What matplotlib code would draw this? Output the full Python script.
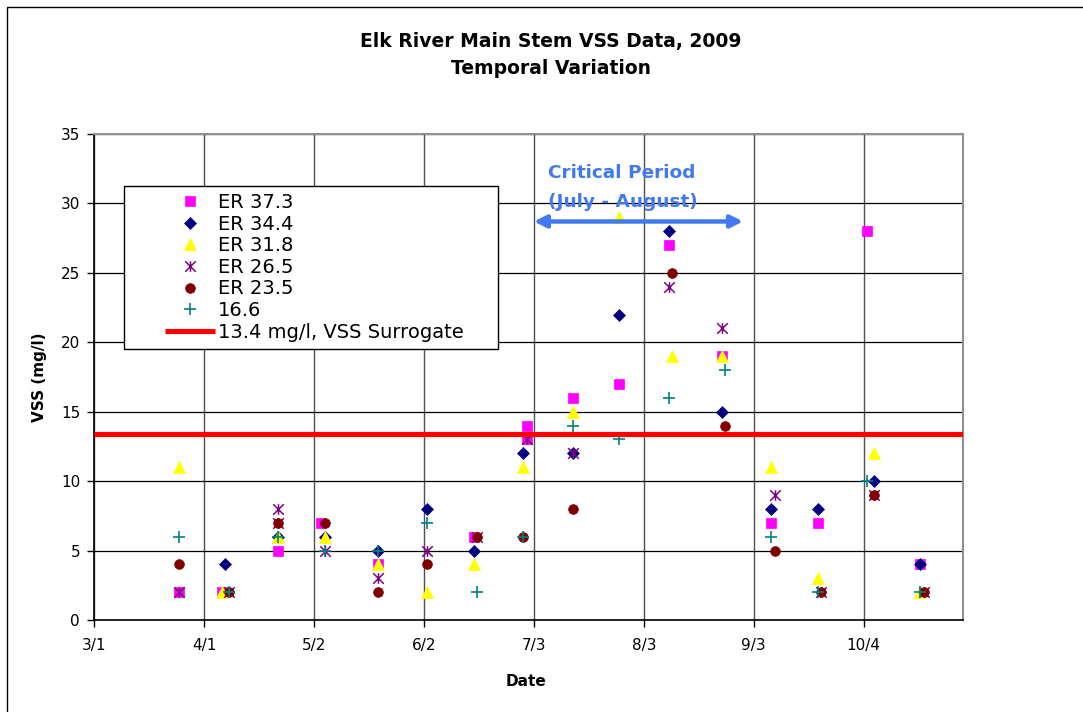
import matplotlib
matplotlib.use("Agg")
import matplotlib.pyplot as plt
import numpy as np
import pandas as pd
from matplotlib.path import Path
from matplotlib.legend_handler import HandlerLine2D
from matplotlib.lines import Line2D
import matplotlib.patches as mpatches

plt.rcParams['font.family'] = ['DejaVu Sans']

# ---------------- data ----------------
YEAR = "2009-"
er373_dates = ['03-25', '04-06', '04-22', '05-04', '05-20', '06-16', '07-01', '07-01', '07-14',
               '07-27', '08-10', '08-25', '09-08', '09-21', '10-05', '10-20']
er373_vals = [2, 2, 5, 7, 4, 6, 14, 13, 16, 17, 27, 19, 7, 7, 28, 4]

er344_dates = ['04-07', '04-22', '05-05', '05-20', '06-03', '06-16', '06-30', '07-14', '07-27',
               '08-10', '08-25', '09-08', '09-21', '10-07', '10-20']
er344_vals = [4, 6, 6, 5, 8, 5, 12, 12, 22, 28, 15, 8, 8, 10, 4]

er318_dates = ['03-25', '04-06', '04-22', '05-05', '05-20', '06-03', '06-16', '06-30', '07-14',
               '07-27', '08-11', '08-25', '09-08', '09-21', '10-07', '10-20']
er318_vals = [11, 2, 6, 6, 4, 2, 4, 11, 15, 29, 19, 19, 11, 3, 12, 2]

er265_dates = ['03-25', '04-08', '04-22', '04-22', '05-05', '05-20', '06-03', '06-17', '07-01',
               '07-14', '08-10', '08-25', '09-09', '09-22', '10-07', '10-21']
er265_vals = [2, 2, 8, 7, 5, 3, 5, 6, 13, 12, 24, 21, 9, 2, 9, 2]

er235_dates = ['03-25', '04-08', '04-22', '05-05', '05-20', '06-03', '06-17', '06-30', '07-14',
               '08-11', '08-26', '09-09', '09-22', '10-07', '10-21']
er235_vals = [4, 2, 7, 7, 2, 4, 6, 6, 8, 25, 14, 5, 2, 9, 2]

s166_dates = ['03-25', '04-08', '04-22', '05-05', '05-20', '06-03', '06-17', '06-30', '07-14',
              '07-27', '08-10', '08-26', '09-08', '09-21', '10-05', '10-20']
s166_vals = [6, 2, 6, 5, 5, 7, 2, 6, 14, 13, 16, 18, 6, 2, 10, 2]

series_labels = ['ER 37.3', 'ER 34.4', 'ER 31.8', 'ER 26.5', 'ER 23.5', '16.6']
surrogate_value = 13.4
surrogate_label = '13.4 mg/l, VSS Surrogate'

x_start, x_end = '2009-03-01', '2009-11-01'
tick_dates = ['2009-03-01', '2009-04-01', '2009-05-02', '2009-06-02', '2009-07-03',
              '2009-08-03', '2009-09-03', '2009-10-04']
y_ticks = [0, 5, 10, 15, 20, 25, 30, 35]

critical_start, critical_end, critical_y = '2009-07-03', '2009-08-31', 28.7
critical_text_x = '2009-07-07'
critical_line1, critical_line2 = 'Critical Period', '(July - August)'

title_lines = ['Elk River Main Stem VSS Data, 2009', 'Temporal Variation']

# ---------------- figure ----------------
W, H = 1083, 712
fig = plt.figure(figsize=(W / 100, H / 100), dpi=100)
ax = fig.add_axes([94 / W, 1 - 620 / H, 869 / W, 486 / H])

star = Path([(-1, -1), (1, 1), (-1, 1), (1, -1), (0, -1), (0, 1)],
            [Path.MOVETO, Path.LINETO] * 3)

styles = [
    dict(marker='s', color='#FF00FF', ms=7.2, mew=0.5),
    dict(marker='D', color='#000080', ms=5.8, mew=0.5),
    dict(marker='^', color='#FFFF00', ms=8.0, mew=0.5),
    dict(marker=star, color='#800080', ms=7.6, mew=1.1, mfc='none'),
    dict(marker='o', color='#800000', ms=7.0, mew=0.5),
    dict(marker='+', color='#008080', ms=8.4, mew=1.2),
]
all_dates = [er373_dates, er344_dates, er318_dates, er265_dates, er235_dates, s166_dates]
all_vals = [er373_vals, er344_vals, er318_vals, er265_vals, er235_vals, s166_vals]

handles = []
for d, v, lab, st in zip(all_dates, all_vals, series_labels, styles):
    x = pd.to_datetime([YEAR + s for s in d])
    st = dict(st)
    col = st.pop('color')
    mfc = st.pop('mfc', col)
    h, = ax.plot(x, v, linestyle='none', color=col, mfc=mfc, mec=col, label=lab,
                 zorder=3, **st)
    handles.append(h)

hl = ax.axhline(surrogate_value, color='#FF0000', lw=3.7, zorder=4, label=surrogate_label,
                solid_capstyle='butt')
handles.append(hl)

# axes styling
ax.set_xlim(pd.Timestamp(x_start), pd.Timestamp(x_end))
ax.set_ylim(y_ticks[0], y_ticks[-1])
tdates = pd.to_datetime(tick_dates)
ax.set_xticks(tdates)
ax.set_xticklabels([f"{t.month}/{t.day}" for t in tdates])
ax.set_yticks(y_ticks)
ax.tick_params(axis='both', direction='out', length=5, width=1, labelsize=11,
               color='black', labelcolor='black')
ax.tick_params(axis='x', pad=8)
ax.tick_params(axis='y', pad=5)
ax.grid(axis='y', color='black', lw=0.9, zorder=1)
ax.grid(axis='x', color='#505050', lw=1.0, zorder=1)
ax.set_axisbelow(True)
for s in ['top', 'right']:
    ax.spines[s].set_color('#909090')
    ax.spines[s].set_linewidth(1.5)
for s in ['left', 'bottom']:
    ax.spines[s].set_color('black')
    ax.spines[s].set_linewidth(1.2)

ax.set_ylabel('VSS (mg/l)', fontsize=11, fontweight='bold')
ax.yaxis.set_label_coords(-0.054, 0.5)
ax.set_xlabel('Date', fontsize=11, fontweight='bold')
ax.xaxis.set_label_coords(0.497, -0.111)

# critical period arrow + text
blue = '#4279F0'
ax.annotate('', xy=(pd.Timestamp(critical_end), critical_y),
            xytext=(pd.Timestamp(critical_start), critical_y),
            arrowprops=dict(arrowstyle='<|-|>', color=blue, lw=3.2, mutation_scale=18,
                            shrinkA=0, shrinkB=0), zorder=5)
ax.text(pd.Timestamp(critical_text_x), 32.2, critical_line1, color=blue, fontsize=13.3,
        fontweight='bold', ha='left', va='center', zorder=6)
ax.text(pd.Timestamp(critical_text_x), 30.1, critical_line2, color=blue, fontsize=13.3,
        fontweight='bold', ha='left', va='center', zorder=6)

# title
fig.text(551 / W, 1 - 42 / H, title_lines[0], ha='center', va='center', fontsize=13.5,
         fontweight='bold')
fig.text(551 / W, 1 - 68 / H, title_lines[1], ha='center', va='center', fontsize=13.5,
         fontweight='bold')


# legend
class RightHandler(HandlerLine2D):
    def __init__(self, frac, **kw):
        super().__init__(**kw)
        self.frac = frac

    def create_artists(self, legend, orig_handle, xdescent, ydescent, width, height,
                       fontsize, trans):
        w2 = width * self.frac
        return super().create_artists(legend, orig_handle, xdescent - (width - w2), ydescent,
                                      w2, height, fontsize, trans)


fs = 14
leg = ax.legend(handles=handles, loc='upper left',
                bbox_to_anchor=(124 / W, 1 - 351 / H, 374 / W, 165 / H),
                bbox_transform=fig.transFigure, mode='expand', borderaxespad=0,
                fontsize=fs, frameon=True, fancybox=False, edgecolor='black',
                framealpha=1.0, facecolor='white',
                handlelength=84 / (fs * 100 / 72), handletextpad=0.15, borderpad=0.36,
                labelspacing=0.135, numpoints=1,
                handler_map={Line2D: RightHandler(50 / 84)})
leg.get_frame().set_linewidth(1.0)
leg.set_zorder(10)

# outer chart border
fig.patches.append(mpatches.Rectangle((7 / W, -0.1), 1.2, 1 - 7 / H + 0.1,
                                      transform=fig.transFigure, fill=False,
                                      edgecolor='black', lw=1.0))

fig.savefig('out.png', dpi=100)
